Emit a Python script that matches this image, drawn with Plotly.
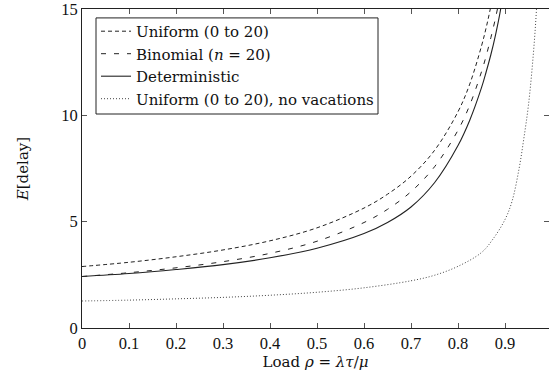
import plotly.graph_objects as go

# Load values (rho) at which curves were read
rho_vac = [0, 0.1, 0.2, 0.3, 0.4, 0.5, 0.6, 0.65, 0.7, 0.75, 0.8, 0.825, 0.85, 0.86, 0.87, 0.88, 0.89, 0.9]
uniform = [2.89, 3.09, 3.35, 3.67, 4.10, 4.71, 5.64, 6.29, 7.14, 8.35, 10.17, 11.47, 13.26, 14.13, 15.14, 16.3, 17.6, 19.0]
binomial = [2.42, 2.60, 2.83, 3.12, 3.51, 4.08, 4.96, 5.58, 6.41, 7.58, 9.30, 10.48, 12.05, 12.8, 13.66, 14.59, 15.69, 17.0]
deterministic = [2.42, 2.56, 2.75, 2.98, 3.30, 3.75, 4.44, 4.96, 5.69, 6.83, 8.58, 9.77, 11.3, 12.05, 12.86, 13.8, 14.9, 16.4]

rho_novac = [0, 0.1, 0.2, 0.3, 0.4, 0.5, 0.6, 0.7, 0.75, 0.8, 0.85, 0.875, 0.9, 0.915, 0.93, 0.94, 0.95, 0.96, 0.967, 0.972]
no_vacations = [1.27, 1.31, 1.37, 1.44, 1.54, 1.68, 1.89, 2.22, 2.48, 2.90, 3.55, 4.2, 5.1, 5.96, 7.5, 8.9, 10.5, 12.8, 15.0, 17.5]

x_ticks = [0, 0.1, 0.2, 0.3, 0.4, 0.5, 0.6, 0.7, 0.8, 0.9]
x_tick_labels = ["0", "0.1", "0.2", "0.3", "0.4", "0.5", "0.6", "0.7", "0.8", "0.9"]
y_ticks = [0, 5, 10, 15]
y_tick_labels = ["0", "5", "10", "15"]

TICKF = dict(family="Liberation Serif", size=16.5, color="#111111")
LEGF = dict(family="DejaVu Serif", size=15, color="#111111")
TITF = dict(family="DejaVu Serif", size=15, color="#111111")
INK = "#222222"

W, H = 549, 384
ML, MR, MT, MB = 82, 0, 6, 56
PW, PH = W - ML - MR, H - MT - MB


def px_x(p):
    return (p - ML) / PW


def px_y(p):
    return 1 - (p - MT) / PH


fig = go.Figure()
fig.add_trace(go.Scatter(x=rho_vac, y=uniform, mode="lines", name="Uniform (0 to 20)",
                         line=dict(color=INK, width=1, dash="4px,3px", shape="spline")))
fig.add_trace(go.Scatter(x=rho_vac, y=binomial, mode="lines", name="Binomial (<i>n</i> = 20)",
                         line=dict(color=INK, width=1, dash="5px,8px", shape="spline")))
fig.add_trace(go.Scatter(x=rho_vac, y=deterministic, mode="lines", name="Deterministic",
                         line=dict(color=INK, width=1.1, shape="spline")))
fig.add_trace(go.Scatter(x=rho_novac, y=no_vacations, mode="lines", name="Uniform (0 to 20), no vacations",
                         line=dict(color="#444444", width=1, dash="1px,2px", shape="spline")))
fig.add_trace(go.Scatter(x=[], y=[], yaxis="y2", showlegend=False, hoverinfo="skip"))

# legend frame
fig.add_shape(type="rect", xref="paper", yref="paper",
              x0=px_x(96), x1=px_x(378), y0=px_y(112), y1=px_y(15),
              line=dict(color="#222222", width=1), fillcolor="white", layer="above")

fig.update_layout(
    width=W, height=H,
    margin=dict(l=ML, r=MR, t=MT, b=MB),
    paper_bgcolor="white", plot_bgcolor="white",
    font=TITF,
    showlegend=True,
    legend=dict(x=px_x(96), y=px_y(12), xanchor="left", yanchor="top",
                bgcolor="rgba(0,0,0,0)", borderwidth=0,
                font=LEGF, tracegroupgap=0),
    xaxis=dict(range=[0, 467 / 470], tickvals=x_ticks, ticktext=x_tick_labels,
               tickfont=TICKF,
               ticks="inside", ticklen=5, tickcolor="#555555", tickwidth=1,
               showline=True, linecolor=INK, linewidth=1, mirror="ticks",
               showgrid=False, zeroline=False, ticklabeloverflow="allow",
               title=dict(text="Load <i>ρ</i> = <i>λτ</i>/<i>μ</i>", standoff=2, font=TITF)),
    yaxis=dict(range=[0, 15], tickvals=y_ticks, ticktext=y_tick_labels,
               tickfont=TICKF,
               ticks="inside", ticklen=5, tickcolor="#555555", tickwidth=1,
               showline=True, linecolor=INK, linewidth=1, mirror=False,
               showgrid=False, zeroline=False, ticklabeloverflow="allow",
               title=dict(text="<i>E</i>[delay]", standoff=28, font=TITF)),
    yaxis2=dict(range=[0, 15], tickvals=y_ticks, overlaying="y", side="right", anchor="x",
                ticks="inside", ticklen=5, tickcolor="#555555", tickwidth=1,
                showticklabels=False, showline=False, showgrid=False, zeroline=False),
)

fig.write_html("out.html", config={"displayModeBar": False},
               post_script="document.body.style.margin='0';document.body.style.overflow='hidden';")
